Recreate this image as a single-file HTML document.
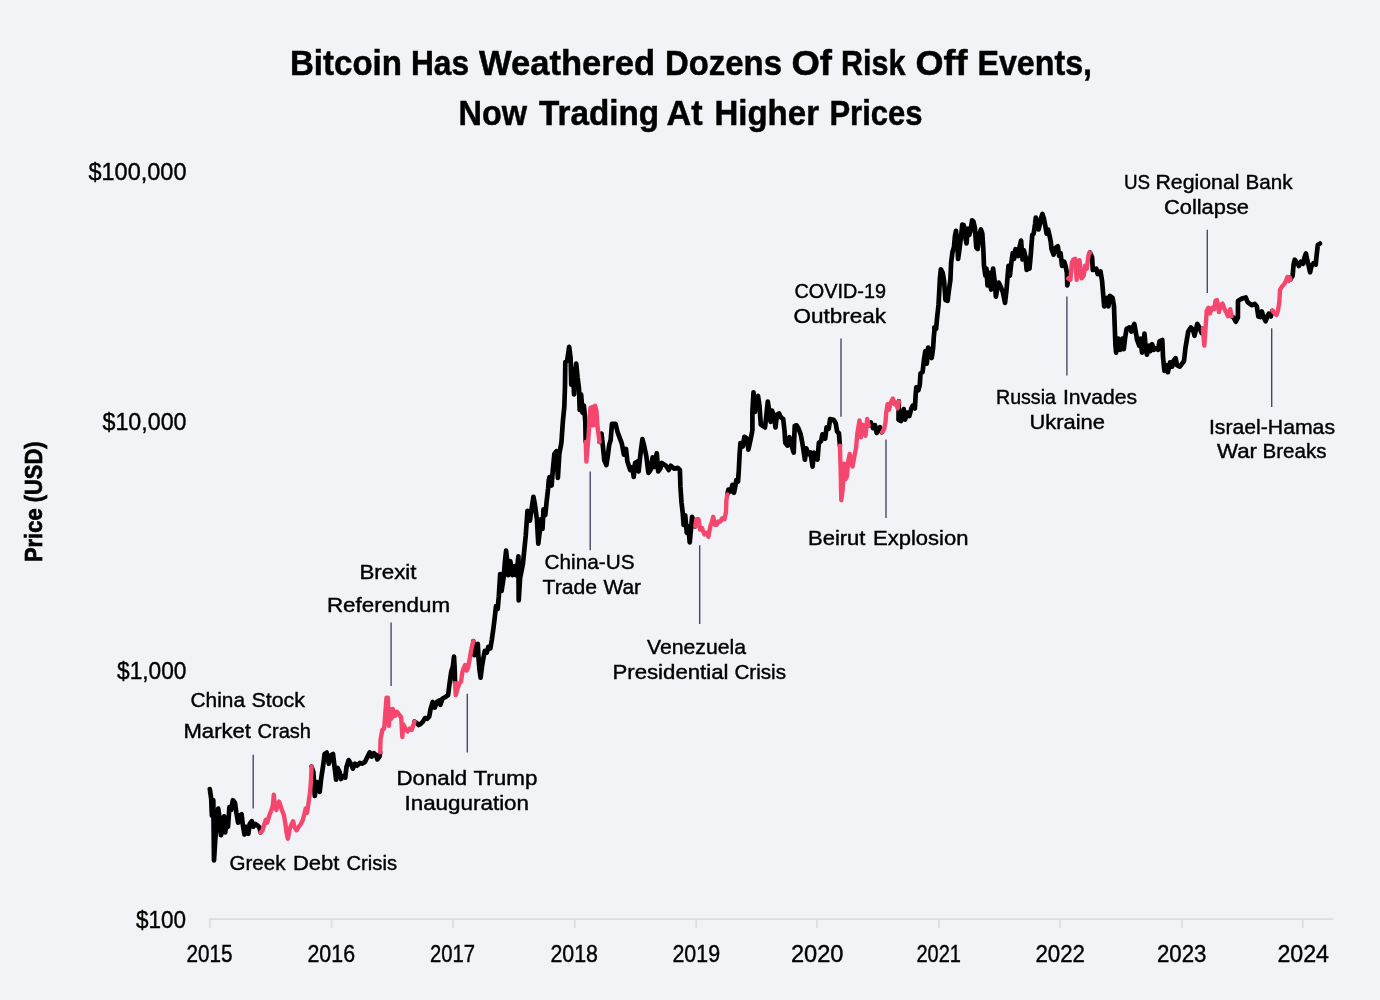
<!DOCTYPE html>
<html lang="en"><head><meta charset="utf-8"><title>Bitcoin Has Weathered Dozens Of Risk Off Events</title>
<style>html,body{margin:0;padding:0;background:#f2f3f7}body{width:1380px;height:1000px;overflow:hidden}svg{display:block}text{font-family:"Liberation Sans", sans-serif;fill:#000;stroke:#000;stroke-width:.4px}text[font-weight=bold]{stroke-width:.5px}</style></head><body>
<svg width="1380" height="1000" viewBox="0 0 1380 1000">
<rect width="1380" height="1000" fill="#f2f3f7"/>
<g stroke="#dddddd" stroke-width="1.7" fill="none">
<path d="M208.8 919.1H1333.5"/>
<path d="M209.8 919.1V928M331.6 919.1V928M452.9 919.1V928M574.8 919.1V928M696.2 919.1V928M816.9 919.1V928M939 919.1V928M1059.9 919.1V928M1182 919.1V928M1302.8 919.1V928"/>
</g>
<g stroke="#43445c" stroke-width="1.35" fill="none">
<path d="M253.2 754.7V808.6"/>
<path d="M391.1 622.4V685.9"/>
<path d="M467.3 693.7V752.5"/>
<path d="M590.2 471.5V550.2"/>
<path d="M699.7 545.3V623.9"/>
<path d="M841 338.5V416.7"/>
<path d="M886 439.4V518"/>
<path d="M1066.9 296.5V375.4"/>
<path d="M1207.3 229.7V292.9"/>
<path d="M1271.7 328.3V407"/>
</g>
<g fill="none" stroke-linejoin="round" stroke-linecap="round">
<path stroke="#000" stroke-width="4.7" d="M209.8,789 211.2,798.8 211.9,815.6 213.3,800.2 214,860.4 215.4,838 216.8,824 218.2,808.6 219.6,818.4 221,835.2 222.4,824 224.1,816.3 225.2,832.4 226.6,822.6 228,826.8 229.4,807.2 231.1,810 232.9,800.2 235,803 236.4,812.8 238.1,822.6 239.9,815.6 241.6,814.2 242.7,824 244.5,834.5 246.2,826.8 248.3,833.8 249.7,824 251.8,821.2 253.2,826.8 255.3,824 257.4,825.4 259.5,827.5 260.5,832.4M311.6,766.6 313.4,772.2 314.8,796 316.9,782 318.3,787.6 319.7,791.8 321.1,779.2 323.2,765.2 324.6,754 326.7,752.6 328.8,763.8 330.9,755.4 333,754 336.1,779.7 337.5,767.8 339.6,772 341,779 343.1,776.2 345.2,777.6 346.6,766.4 348.7,760.1 350.8,763.6 352.9,768.5 355,763.6 357.1,765.7 359.9,762.9 362,763.6 364.8,762.2 366.9,758 369.7,752.4 371.8,756.6 373.9,753.1 376,755.2 377.4,759.4 379.5,756.6 380.2,752.4M414.5,721.6 416.6,723 418.7,725.1 420.8,723.7 422.9,721.6 425,718.1 427.1,718.8 429.2,716.7 430.6,709 432.7,702 434.8,707.6 436.9,702 439,700.6 440.4,704.8 442.5,698.5 445.3,697.1 448.1,695 449.8,681.8 451.2,672 452.9,666.4 454,656.6 454.7,669.2 455.1,683.2M473.3,641.2 474.3,655.2 475.7,646.8 477.8,644 478.5,658 479.6,670.6 480.6,677.6 482,666.4 483.4,658 484.8,651 486.9,652.4 488.3,646.8 490.4,648.2 491.8,639.8 493.2,630 494.6,618.8 496,606.2 497.7,609 498.8,596.4 500.2,574 501.6,590.8 503.7,576.8 505.1,560 506.1,550.7 507.5,564 508.2,575.2 510.3,561.2 512.4,575.2 514.5,566.1 515.9,575.2 517.3,566.8 518.4,556.3 518.7,600.4 520.1,578 521.5,571 522.9,564 524.3,550 525.7,536 526.7,522 527.5,510.8 529.9,520.6 531.3,510.8 533.4,496.8 534.8,503.8 536.9,519.2 538.3,543.7 539.7,531.8 541.1,519.2 542.5,529 543.5,509.4 545.3,515 546.7,501 548.1,488.4 548.8,480 549.5,477.1 551.6,485.5 553,468 554.4,454 556.5,451.2 557.9,477.8 559.3,454 561.4,442.8 562.9,421 564.3,407 565,386 565.3,362.2 567.1,360.8 569.2,346.8 570.6,358 571.3,384.6 572.7,369.2 574.1,394.4 575.1,372 576.2,363.6 577.6,377.6 579,388.8 579.7,409.8 581.1,394.4 582.5,412.6 583.9,405.6 585.3,421 585.7,442M599.6,442 600.1,442 601.5,433.6 602.9,446.2 604.3,460.2 606.4,465.1 607.8,456 609.2,444.8 610.6,440.6 612,423.8 615.5,423.8 617.6,432.2 619.7,437.8 621.8,443.4 623.9,454.6 626,449 627.4,461.6 630.2,470 632.3,467.2 633.7,477 635.1,463 637.2,461.6 638.6,471.4 640.7,451.8 642.4,439.2 644.2,446.2 646.3,456 648.4,472.8 650.5,470 652.6,457.4 654,467.2 656.8,453.2 658.2,471.4 660.3,468.6 661.7,463 665.9,465.8 668.7,470 670.8,465.8 674.3,468.6 677.8,467.9 679.9,470 680.4,486.4 681.5,502.4 682.8,513.6 683.6,524.8 685.2,515.2 686.8,532.8 688.4,526.4 689.7,542.4 691.1,528 692.1,516.8 694,523.2 695.3,526.4M727.3,494.4 728.4,489.6 730.8,491.2 732.4,484.8 734,492.8 735.6,484.8 736.4,480 738,481.6 738.8,470.4 739.6,454.4 740.4,443.2 742.8,446.4 744.4,436.8 746.8,438.4 748.4,449.6 750.8,438.4 752.4,430.4 752.4,412 753.5,392.4 754.9,412 756.3,398 758,395.9 759.4,405 760.8,424.6 762.9,426 765,427.4 766.4,414.8 767.8,401.5 769.2,410.6 770.6,421.8 772,410.6 774.1,416.2 775.5,427.4 776.9,414.8 779,413.4 781.1,417.6 783.2,419 784.6,431.6 785.3,442.8 787.4,445.6 789.5,437.2 791.6,445.6 793.7,452.6 794.7,426 796.5,425.3 798.6,428.8 800.7,434.4 802.8,445.6 804.9,459.6 806.3,448.4 808.4,454 810.5,452.6 812.6,466.6 814,452.6 816.1,454 817.5,459.6 818.9,442.8 821,441.4 822.4,434.4 825.2,438.6 826.6,427.4 828.7,428.8 830.1,419 833.6,419.7 835.7,423.2 837.1,431.6 838.9,433 839.9,445.6M868.7,425.2 870.8,422.4 872.9,428 875,425.2 876.7,432.9 878.5,430.8 879.9,427.3 882,432.2M898.8,401.4 898.5,419.6 900.9,421 902.3,414 903.7,409.1 905.1,419.6 907.2,412.6 909.3,416.1 911.4,408.4 912.8,405.6 914.9,408.4 915.6,395.8 916.3,387.4 918.4,390.2 919.8,384.6 920.5,373.4 922.6,372 924,359.4 925.4,351 926.8,363.6 928.2,347.5 930.3,351 931.7,358 933.1,348.2 933.8,337 934.5,330 934.3,327.4 936.1,328.8 937.1,317.6 938.5,305 939.2,292.4 939.9,278.4 940.9,269.3 942.7,272.8 944.1,281.2 945.5,300.1 947.6,300.8 949,289.6 950.4,279.8 951.1,263 952.5,251.8 953.9,247.6 954.9,236.4 956,230.8 957.1,242 958.1,258.8 959.5,249 960.9,237.8 962.3,224.5 963.7,225.2 965.1,236.4 966.5,243.4 967.9,228.7 969.3,235 970.7,230.1 972.1,220.3 973.5,221.7 974.9,228 976.3,247.6 977.7,249 979.1,235 980.9,229.4 982.3,233.6 983.3,249 984,265.8 985.4,275.6 986.5,268.6 987.5,285.4 989.6,272.8 991,289.6 993.1,268.6 994.5,279.8 995.9,296.6 997.3,288.2 998.7,282.6 1000.8,286.8 1002.9,292.4 1005,302.9 1006.4,291 1007.8,274.2 1008.5,265.8 1009.9,275.6 1011.3,263 1012.7,253.2 1014.1,258.8 1015.5,249 1018.3,256 1019.7,246.2 1021.1,240.6 1022.5,259.5 1023.9,250.4 1025.3,256 1026.7,270 1028.1,258.8 1029.5,268.6 1030.9,253.2 1031.6,243.4 1032.3,235 1033.7,233.6 1035.1,223.8 1035.8,217.5 1037.2,225.2 1038.6,229.4 1040,223.8 1041,218.2 1042.4,214 1043.8,218.2 1045.2,225.2 1046.6,233.6 1048,229.4 1049.7,236.4 1050.8,242 1051.5,249 1053.6,254.6 1055.7,247.6 1057.8,246.2 1059.2,256 1060.6,253.2 1062,265.8 1064.1,261.6 1065.5,265.8 1066.9,272.8 1067.3,285.4 1068.3,278.4M1090,252.5 1092.1,257.4 1092.8,270 1096.3,268.6 1097.7,274.2 1100.5,271.4 1102.1,281.2 1103.5,298 1104.2,306.4 1107,298 1108.4,306.4 1109.8,295.9 1112.6,298 1114,306.4 1114.7,326 1115.4,344.2 1116.1,352.6 1118.2,338.6 1120.3,349.8 1122.4,338.6 1123.8,349.1 1125.2,337.2 1126.6,328.8 1129.4,327.4 1131.5,331.6 1134.3,323.9 1135.7,331.6 1137.1,340 1139.2,345.6 1140.6,338.6 1142,352.6 1143.4,344.2 1144.5,333.7 1145.5,345.6 1146.9,354.7 1149,345.6 1150.4,351.2 1152.1,344.2 1153.9,349.8 1156,348.4 1158.1,349.8 1159.5,341.4 1162.3,340 1163,356.8 1164.4,370.8 1166.5,365.2 1167.9,372.2 1170,362.4 1172.1,366.6 1173.5,361 1175.6,358.2 1177,365.2 1179.8,366.6 1181.9,363.8 1184,361 1185.4,348.4 1186.8,340 1188.2,331.6 1191,327.4 1193.1,330.2 1194.5,335.8 1197.3,323.9 1199.4,327.4 1201.5,333 1202.9,328.8M1231.6,316.2 1233.7,317.6 1235.8,321.8 1237.9,317.6 1238,301 1240.1,299.6 1242.9,298.2 1245.7,297.5 1247.8,302.4 1249.9,303.8 1252,305.2 1254.8,303.8 1256.9,306.6 1258.3,316.4 1260.4,317.1 1261.8,311.5 1263.9,317.8 1265.6,321.3 1267.4,316.4 1268.8,313.6 1270.9,316.4 1272.3,310.8M1290.5,279.3 1292.6,275.8 1293.6,264.6 1294.7,259.7 1296.8,262.5 1298.9,266 1301,261.8 1303.1,263.9 1304.5,257.6 1305.9,253.4 1307.3,260.4 1308.7,266 1310.1,272.3 1311.5,266 1313.6,263.2 1315.7,264.6 1316.7,254.8 1317.8,245 1319.9,243.6"/>
<path stroke="#f5476e" stroke-width="4.4" d="M260.5,832.4 262.3,831 264.4,824 265.8,819.8 267.2,822.6 269.3,815.6 271.4,810 272.8,805.8 273.8,794.6 274.9,807.2 276.3,810 277.7,804.4 279.1,801.6 280.5,805.8 281.9,810 284,815.6 285.4,824 286.5,832.4 287.9,838.7 289.6,829.6 291,825.4 293.1,821.2 294.5,826.8 296.6,830.3 298.7,826.8 300.8,824 302.9,819.8 304.3,814.2 305.7,808.6 307.1,812.8 308.5,803 309.9,793.2 310.9,782 311.6,766.6M380.2,752.4 380.5,739.8 382.3,730 384.1,728.6 385.1,716 386.5,697.8 387.9,697.8 388.9,725.8 390,709 391.4,718.8 392.8,709 394.9,716 397,711.8 399.1,714.6 401.2,717.4 402.3,737 403.3,724.4 405.4,728.6 407.5,731.4 409.6,728.6 411.7,730 413.1,725.8 414.5,721.6M455.1,683.2 455.7,695.1 457.5,688.8 459.6,683.2 461,681.8 462.4,672 463.8,667.8 465.2,665 466.6,670.6 468,667.8 469.4,660.8 470.8,652.4 472.2,645.4 473.3,641.2M585.7,442 586.4,461.6 587.4,449 588.5,436.4 589.5,419.6 590.5,407.7 591.6,425.2 592.6,407 593.7,425.2 595.1,405.6 596.5,411.2 597.5,426.6 598.6,435 599.6,442M695.3,526.4 696.4,519.2 698.5,519.2 700.1,529.6 702,528 704.4,534.4 706.8,532.8 708.4,536.8 710.3,526.4 711.6,523.2 713.2,516.8 714.8,524.8 716.7,524.8 718,521.6 720.4,521.6 722,518.4 724.4,519.2 726,512 726.3,500.8 727.3,494.4M839.9,445.6 840.6,468 841.3,500.2 842.7,489 844.1,463.8 845.5,479.2 846.9,476.4 848.3,461 849.7,454 851.1,459.6 852.5,466.6 854.6,455.4 856,448.4 857.4,433 859.5,420.4 860.9,437.2 862.3,424.6 864.1,426 865.5,435.8 867.2,419 868.6,426 868.7,425.2M882,432.2 884.1,429.4 885.5,422.4 886.2,412.6 887.6,404.2 889,409.8 890.7,402.8 892.9,398.6 894.6,404.2 896,402.8 897.7,408.4 898.8,401.4M1068.3,278.4 1070.4,279.8 1071.8,263 1073.2,259.5 1075.3,258.8 1076.7,279.8 1078.1,267.2 1079.5,260.2 1081.6,278.4 1083.7,275.6 1085.1,265.8 1086.9,268.6 1088.6,254.6 1090,252.5M1202.9,328.8 1204.3,345.6 1205.7,326 1206.7,310.6 1208.5,307.8 1209.9,313.4 1212,307.8 1214.1,309.2 1215.5,300.8 1216.9,300.1 1219,312 1220.4,305 1222.5,303.6 1224.6,309.2 1226,312 1228.1,316.2 1230.2,309.2 1231.6,316.2M1272.3,310.8 1275.1,313.6 1276.5,315 1277.9,310.8 1279.3,302.4 1280,289.8 1282.1,286.3 1284.2,284.2 1286.3,280 1287.4,276.9 1288.4,281.1 1289.5,277.2 1290.5,279.3"/>
</g>
<text y="75.00" font-size="35.3" font-weight="bold">
<tspan x="289.95" textLength="112.09" lengthAdjust="spacingAndGlyphs">Bitcoin</tspan> 
<tspan x="410.91" textLength="58.14" lengthAdjust="spacingAndGlyphs">Has</tspan> 
<tspan x="479.00" textLength="176.02" lengthAdjust="spacingAndGlyphs">Weathered</tspan> 
<tspan x="664.95" textLength="117.08" lengthAdjust="spacingAndGlyphs">Dozens</tspan> 
<tspan x="791.47" textLength="40.52" lengthAdjust="spacingAndGlyphs">Of</tspan> 
<tspan x="840.96" textLength="64.53" lengthAdjust="spacingAndGlyphs">Risk</tspan> 
<tspan x="915.46" textLength="52.04" lengthAdjust="spacingAndGlyphs">Off</tspan> 
<tspan x="977.43" textLength="114.64" lengthAdjust="spacingAndGlyphs">Events,</tspan> 
</text>
<text y="125.30" font-size="35.3" font-weight="bold">
<tspan x="458.44" textLength="68.56" lengthAdjust="spacingAndGlyphs">Now</tspan> 
<tspan x="539.00" textLength="120.02" lengthAdjust="spacingAndGlyphs">Trading</tspan> 
<tspan x="666.47" textLength="36.04" lengthAdjust="spacingAndGlyphs">At</tspan> 
<tspan x="714.46" textLength="104.53" lengthAdjust="spacingAndGlyphs">Higher</tspan> 
<tspan x="829.45" textLength="93.07" lengthAdjust="spacingAndGlyphs">Prices</tspan> 
</text>
<text x="88.49" y="180.20" font-size="24.6" font-weight="normal" textLength="98.02" lengthAdjust="spacingAndGlyphs">$100,000</text>
<text x="102.50" y="430.00" font-size="24.6" font-weight="normal" textLength="84.01" lengthAdjust="spacingAndGlyphs">$10,000</text>
<text x="117.00" y="678.70" font-size="24.6" font-weight="normal" textLength="69.51" lengthAdjust="spacingAndGlyphs">$1,000</text>
<text x="135.99" y="928.00" font-size="24.6" font-weight="normal" textLength="50.03" lengthAdjust="spacingAndGlyphs">$100</text>
<text x="186.49" y="961.60" font-size="24.0" font-weight="normal" textLength="46.02" lengthAdjust="spacingAndGlyphs">2015</text>
<text x="307.47" y="961.60" font-size="24.0" font-weight="normal" textLength="47.57" lengthAdjust="spacingAndGlyphs">2016</text>
<text x="429.98" y="961.60" font-size="24.0" font-weight="normal" textLength="45.03" lengthAdjust="spacingAndGlyphs">2017</text>
<text x="550.46" y="961.60" font-size="24.0" font-weight="normal" textLength="47.55" lengthAdjust="spacingAndGlyphs">2018</text>
<text x="672.45" y="961.60" font-size="24.0" font-weight="normal" textLength="47.62" lengthAdjust="spacingAndGlyphs">2019</text>
<text x="790.98" y="961.60" font-size="24.0" font-weight="normal" textLength="52.54" lengthAdjust="spacingAndGlyphs">2020</text>
<text x="916.46" y="961.60" font-size="24.0" font-weight="normal" textLength="44.55" lengthAdjust="spacingAndGlyphs">2021</text>
<text x="1035.48" y="961.60" font-size="24.0" font-weight="normal" textLength="49.54" lengthAdjust="spacingAndGlyphs">2022</text>
<text x="1156.98" y="961.60" font-size="24.0" font-weight="normal" textLength="49.54" lengthAdjust="spacingAndGlyphs">2023</text>
<text x="1277.48" y="961.60" font-size="24.0" font-weight="normal" textLength="51.54" lengthAdjust="spacingAndGlyphs">2024</text>
<text y="706.50" font-size="20.2" font-weight="normal">
<tspan x="190.49" textLength="54.51" lengthAdjust="spacingAndGlyphs">China</tspan> 
<tspan x="251.49" textLength="53.52" lengthAdjust="spacingAndGlyphs">Stock</tspan> 
</text>
<text y="738.30" font-size="20.2" font-weight="normal">
<tspan x="183.48" textLength="67.52" lengthAdjust="spacingAndGlyphs">Market</tspan> 
<tspan x="257.48" textLength="53.54" lengthAdjust="spacingAndGlyphs">Crash</tspan> 
</text>
<text x="359.47" y="578.70" font-size="20.2" font-weight="normal" textLength="57.03" lengthAdjust="spacingAndGlyphs">Brexit</text>
<text x="326.96" y="611.80" font-size="20.2" font-weight="normal" textLength="123.07" lengthAdjust="spacingAndGlyphs">Referendum</text>
<text y="869.50" font-size="20.2" font-weight="normal">
<tspan x="229.49" textLength="56.02" lengthAdjust="spacingAndGlyphs">Greek</tspan> 
<tspan x="292.98" textLength="46.52" lengthAdjust="spacingAndGlyphs">Debt</tspan> 
<tspan x="346.49" textLength="50.52" lengthAdjust="spacingAndGlyphs">Crisis</tspan> 
</text>
<text y="784.60" font-size="20.2" font-weight="normal">
<tspan x="396.45" textLength="70.60" lengthAdjust="spacingAndGlyphs">Donald</tspan> 
<tspan x="473.49" textLength="64.01" lengthAdjust="spacingAndGlyphs">Trump</tspan> 
</text>
<text x="404.47" y="809.80" font-size="20.2" font-weight="normal" textLength="124.56" lengthAdjust="spacingAndGlyphs">Inauguration</text>
<text x="544.50" y="568.50" font-size="20.2" font-weight="normal" textLength="90.02" lengthAdjust="spacingAndGlyphs">China-US</text>
<text y="593.70" font-size="20.2" font-weight="normal">
<tspan x="542.47" textLength="54.58" lengthAdjust="spacingAndGlyphs">Trade</tspan> 
<tspan x="603.50" textLength="37.50" lengthAdjust="spacingAndGlyphs">War</tspan> 
</text>
<text x="647.00" y="653.50" font-size="20.2" font-weight="normal" textLength="99.01" lengthAdjust="spacingAndGlyphs">Venezuela</text>
<text y="678.90" font-size="20.2" font-weight="normal">
<tspan x="612.45" textLength="116.09" lengthAdjust="spacingAndGlyphs">Presidential</tspan> 
<tspan x="734.48" textLength="51.53" lengthAdjust="spacingAndGlyphs">Crisis</tspan> 
</text>
<text x="794.49" y="297.60" font-size="20.2" font-weight="normal" textLength="91.51" lengthAdjust="spacingAndGlyphs">COVID-19</text>
<text x="793.49" y="322.50" font-size="20.2" font-weight="normal" textLength="92.51" lengthAdjust="spacingAndGlyphs">Outbreak</text>
<text y="544.60" font-size="20.2" font-weight="normal">
<tspan x="807.96" textLength="57.54" lengthAdjust="spacingAndGlyphs">Beirut</tspan> 
<tspan x="872.98" textLength="95.54" lengthAdjust="spacingAndGlyphs">Explosion</tspan> 
</text>
<text y="403.60" font-size="20.2" font-weight="normal">
<tspan x="995.96" textLength="60.03" lengthAdjust="spacingAndGlyphs">Russia</tspan> 
<tspan x="1062.96" textLength="74.04" lengthAdjust="spacingAndGlyphs">Invades</tspan> 
</text>
<text x="1029.48" y="428.60" font-size="20.2" font-weight="normal" textLength="75.54" lengthAdjust="spacingAndGlyphs">Ukraine</text>
<text y="188.80" font-size="20.2" font-weight="normal">
<tspan x="1123.91" textLength="26.11" lengthAdjust="spacingAndGlyphs">US</tspan> 
<tspan x="1155.47" textLength="84.06" lengthAdjust="spacingAndGlyphs">Regional</tspan> 
<tspan x="1245.48" textLength="47.02" lengthAdjust="spacingAndGlyphs">Bank</tspan> 
</text>
<text x="1163.99" y="213.80" font-size="20.2" font-weight="normal" textLength="85.03" lengthAdjust="spacingAndGlyphs">Collapse</text>
<text x="1208.97" y="433.80" font-size="20.2" font-weight="normal" textLength="126.04" lengthAdjust="spacingAndGlyphs">Israel-Hamas</text>
<text y="458.00" font-size="20.2" font-weight="normal">
<tspan x="1216.98" textLength="40.03" lengthAdjust="spacingAndGlyphs">War</tspan> 
<tspan x="1262.48" textLength="64.04" lengthAdjust="spacingAndGlyphs">Breaks</tspan> 
</text>
<text transform="translate(41.90 562.02) rotate(-90)" font-size="23.8" font-weight="bold" style="stroke-width:.7px" textLength="120.53" lengthAdjust="spacingAndGlyphs">Price (USD)</text>
</svg></body></html>
